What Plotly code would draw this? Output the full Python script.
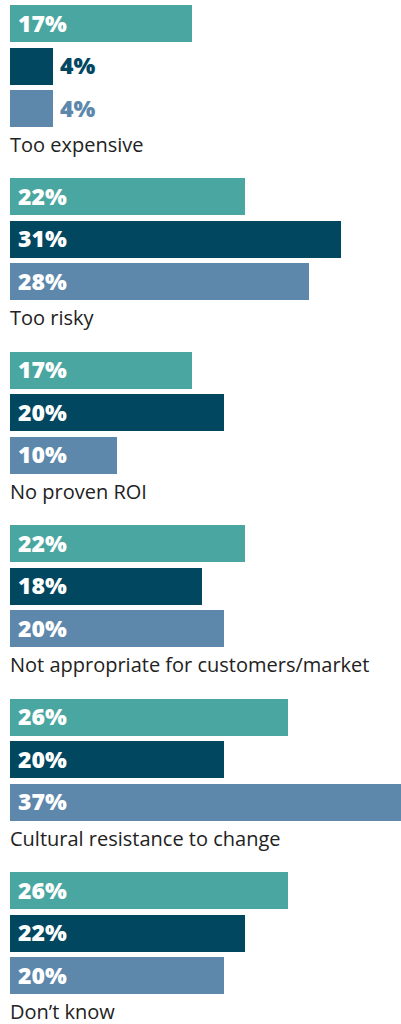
import plotly.graph_objects as go

# Survey responses: share of respondents citing each barrier, by segment
categories = [
    "Too expensive",
    "Too risky",
    "No proven ROI",
    "Not appropriate for customers/market",
    "Cultural resistance to change",
    "Don\u2019t know",
]
series_a = [17, 22, 17, 22, 26, 26]
series_b = [4, 31, 20, 18, 20, 22]
series_c = [4, 28, 10, 20, 37, 20]

series_values = [series_a, series_b, series_c]
colors = ["#4aa6a0", "#00475f", "#5d87ab"]

W, H = 401, 1024
GROUP_PITCH = 173.4
BAR_PITCH = 42.5
BAR_H = 37
TOP = 5
LABEL_OFFSET = 139.5
PX_PER_UNIT = 10.68
LEFT = 10

fig = go.Figure()
annotations = []

for k, (vals, col) in enumerate(zip(series_values, colors)):
    ys = [TOP + g * GROUP_PITCH + k * BAR_PITCH + BAR_H / 2 for g in range(len(categories))]
    fig.add_trace(go.Bar(
        x=vals, y=ys, orientation="h", width=BAR_H,
        marker=dict(color=col, line=dict(width=0)),
        hoverinfo="skip", showlegend=False,
    ))
    for v, y in zip(vals, ys):
        inside = v >= 8
        annotations.append(dict(
            x=0 if inside else v, y=y, xref="x", yref="y",
            text=f"{v}%", showarrow=False,
            xanchor="left", yanchor="middle",
            xshift=6 if inside else 5, yshift=1,
            font=dict(family="Open Sans", size=23, weight=800,
                      color="white" if inside else col),
        ))

for g, cat in enumerate(categories):
    annotations.append(dict(
        x=0, y=TOP + g * GROUP_PITCH + LABEL_OFFSET, xref="x", yref="y",
        text=cat, showarrow=False, xanchor="left", yanchor="middle",
        xshift=-2,
        font=dict(family="Open Sans", size=20, color="#222222"),
    ))

fig.update_layout(
    width=W, height=H,
    margin=dict(l=LEFT, r=0, t=0, b=0),
    paper_bgcolor="white", plot_bgcolor="white",
    bargap=0,
    annotations=annotations,
    xaxis=dict(range=[0, (W - LEFT) / PX_PER_UNIT], visible=False, fixedrange=True),
    yaxis=dict(range=[H, 0], visible=False, fixedrange=True),
)

fig.write_html("out.html", config={"displayModeBar": False})
